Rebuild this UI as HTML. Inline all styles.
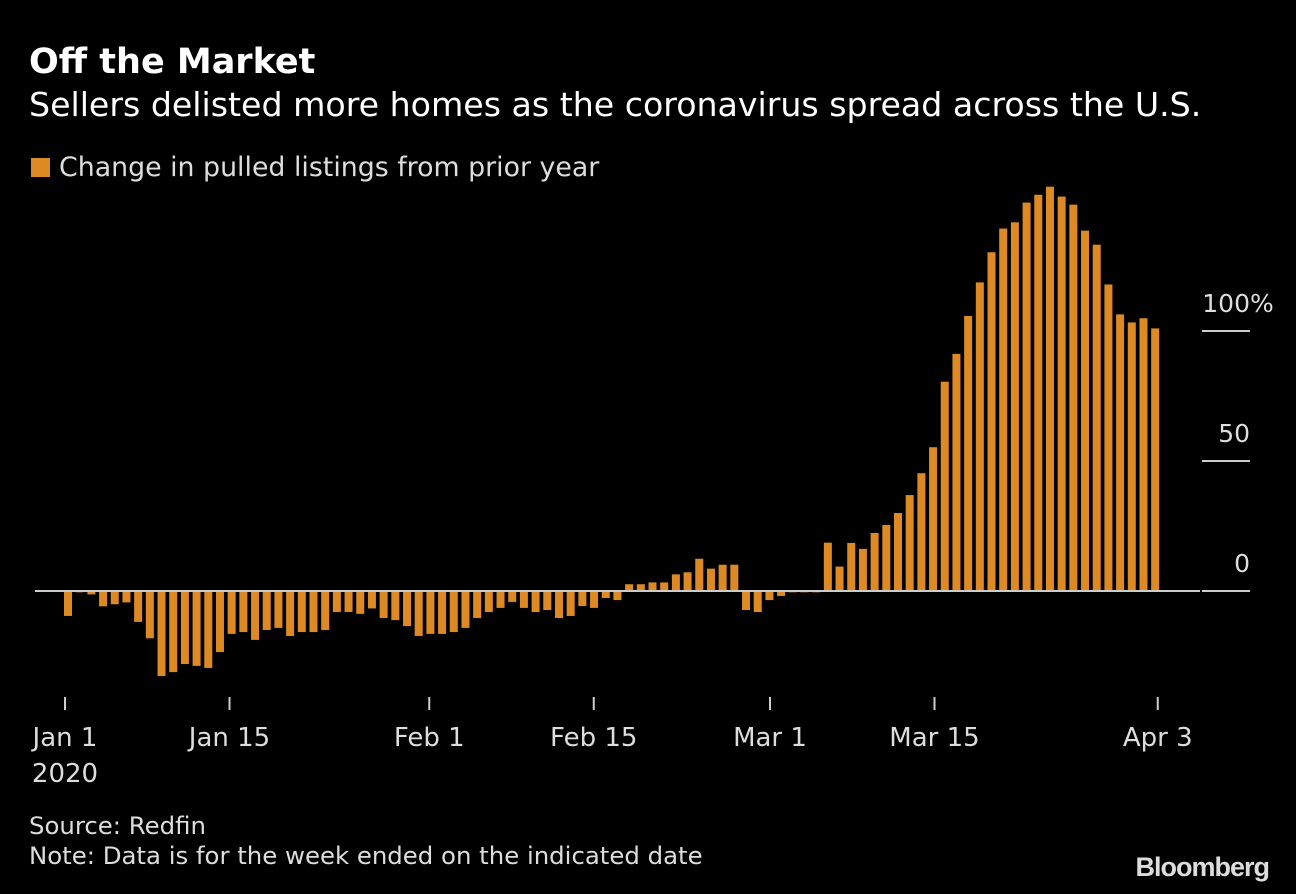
<!DOCTYPE html>
<html><head><meta charset="utf-8"><style>
body{margin:0;background:#000;width:1296px;height:894px;overflow:hidden;font-family:"DejaVu Sans",sans-serif;color:#fff}
.t{position:absolute;white-space:nowrap}
</style></head><body>
<div class="t" style="left:29px;top:42px;font-size:35px;font-weight:bold">Off the Market</div>
<div class="t" style="left:29px;top:85px;font-size:33.2px">Sellers delisted more homes as the coronavirus spread across the U.S.</div>
<div class="t" style="left:31px;top:152px;font-size:26.8px;color:#ddd"><span style="display:inline-block;width:19px;height:19px;background:#dd8a24;margin-right:9px;vertical-align:-1px"></span>Change in pulled listings from prior year</div>
<svg id="c" width="1296" height="894" style="position:absolute;left:0;top:0"></svg>
<div class="t" style="left:29px;top:811px;font-size:24.4px;color:#ddd">Source: Redfin</div>
<div class="t" style="left:29px;top:841px;font-size:24.4px;color:#ddd">Note: Data is for the week ended on the indicated date</div>
<div class="t" style="right:27px;top:852px;font-family:'Liberation Sans',sans-serif;font-size:27px;font-weight:bold;letter-spacing:-1px;color:#ddd">Bloomberg</div>
<script>
const values=[-9.6,-0.5,-1.3,-5.9,-5.1,-4.4,-11.9,-18.2,-32.7,-31.2,-28.1,-28.8,-29.6,-23.5,-16.5,-15.8,-18.8,-15,-14.2,-17.3,-15.8,-15.8,-15,-8.1,-8.1,-8.8,-6.7,-10.4,-11.2,-13.5,-17.3,-16.5,-16.5,-15.8,-14.2,-10.4,-8.1,-6.5,-4.2,-6.5,-8.1,-7.3,-10.4,-9.6,-5.8,-6.5,-2.7,-3.5,2.6,2.6,3.3,3.3,6.4,7.2,12.4,8.6,10.1,10.1,-7.3,-8.1,-3.5,-1.9,-0.5,-0.5,-0.5,18.6,9.4,18.5,16.2,22.3,25.4,30,36.9,45.3,55.3,80.5,91.2,105.8,118.7,130.3,139.4,141.8,149.4,152.4,155.5,151.7,148.6,138.6,133.2,117.9,106.4,103.3,104.9,101];
const xTickDays=[0,14,31,45,60,74,93];
const xTickLabels=["Jan 1","Jan 15","Feb 1","Feb 15","Mar 1","Mar 15","Apr 3"];
const yTicks=[0,50,100];
const yTickLabels=["0","50","100"];
const NS="http://www.w3.org/2000/svg",svg=document.getElementById('c');
const x=d=>65+d*11.75, xb=i=>68+i*11.69, y=v=>591-v*2.6;
function el(t,a){const e=document.createElementNS(NS,t);for(const k in a)e.setAttribute(k,a[k]);svg.appendChild(e);return e;}
values.forEach((v,i)=>{const b=el('rect',{x:xb(i)-4,y:Math.min(y(v),y(0)),width:8,height:Math.abs(y(v)-y(0)),fill:'#dd8a24'});

});
const zl=el('line',{x1:35,x2:1200,y1:591,y2:591,stroke:'#ccc','stroke-width':2});


yTicks.forEach((v,i)=>{const l=el('line',{x1:1202,x2:1250,y1:y(v),y2:y(v),stroke:'#ccc','stroke-width':2});


const t=el('text',{x:1250,y:y(v)-19,'text-anchor':'end','font-size':25,fill:'#ddd','font-family':'DejaVu Sans'});t.textContent=yTickLabels[i];

});
const pc=el('text',{x:1250,y:y(100)-19,'font-size':25,fill:'#ddd','font-family':'DejaVu Sans'});pc.textContent="%";


xTickDays.forEach((d,i)=>{const l=el('line',{x1:x(d),x2:x(d),y1:697,y2:710,stroke:'#ccc','stroke-width':2});


const t=el('text',{x:x(d),y:746,'text-anchor':'middle','font-size':26,fill:'#ddd','font-family':'DejaVu Sans'});t.textContent=xTickLabels[i];

});
const yr=el('text',{x:x(0),y:782,'text-anchor':'middle','font-size':26,fill:'#ddd','font-family':'DejaVu Sans'});yr.textContent="2020";


</script>
</body></html>
